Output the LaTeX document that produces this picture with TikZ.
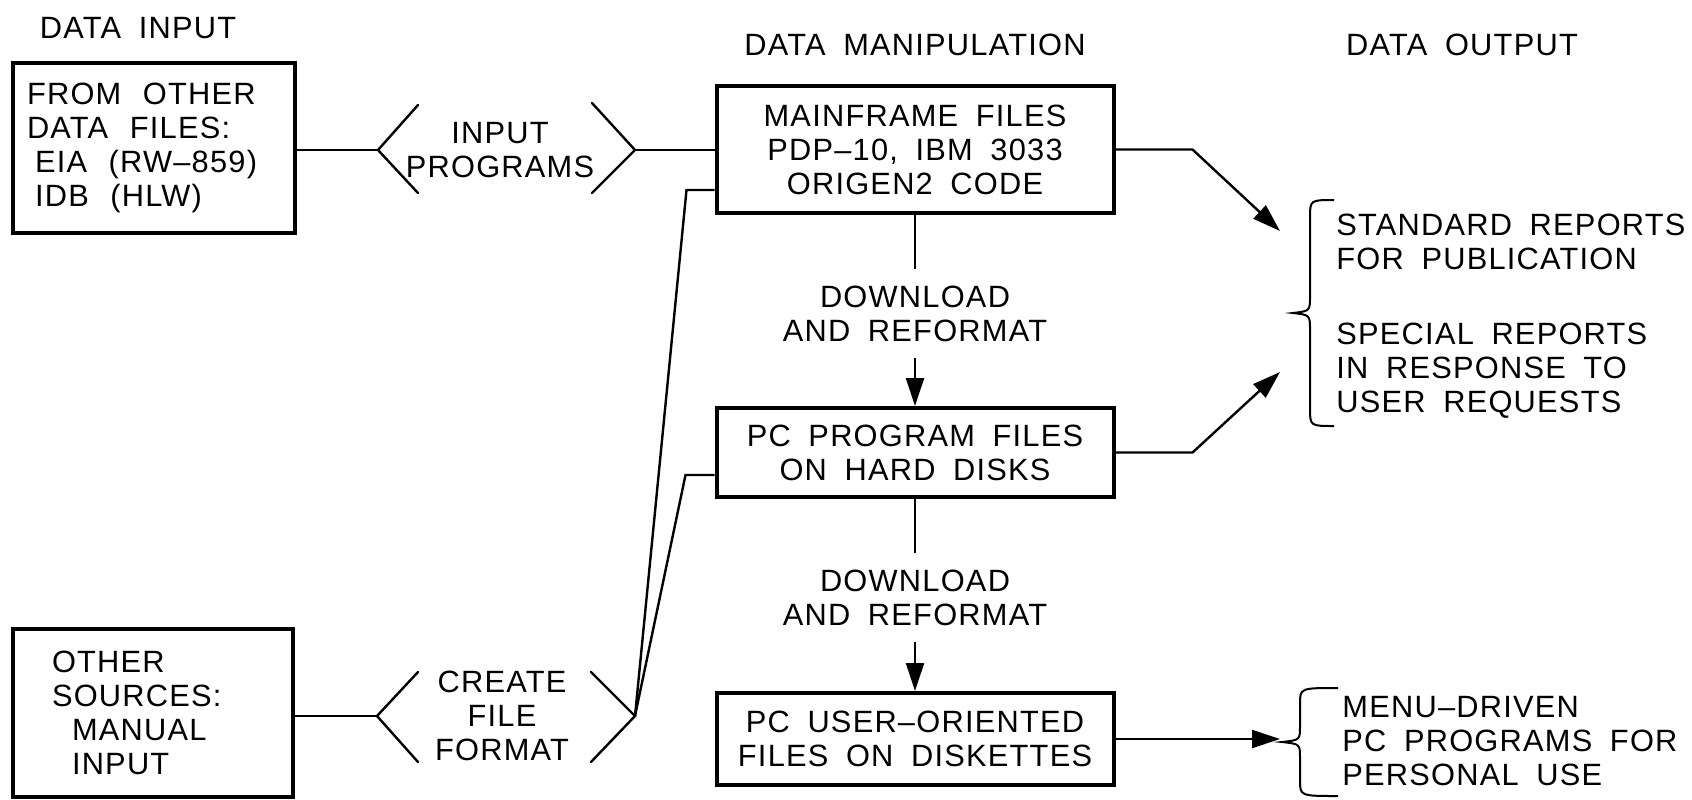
\documentclass[tikz,border=0pt]{standalone}
\usepackage{fontspec}
\setmainfont{Liberation Sans}[LetterSpace=4, WordSpace=1.8]
\usetikzlibrary{arrows.meta, positioning}
\newcommand{\widesp}{\spaceskip=0.7em\relax}

\begin{document}
\begin{tikzpicture}[x=0.5pt, y=-0.5pt,
  >={Triangle[length=14pt, width=9pt]},
  font=\fontsize{15.4pt}{17pt}\selectfont,
  procbox/.style={draw, line width=2pt, align=center, inner sep=0pt},
  srcbox/.style={draw, line width=2pt, align=left, inner ysep=0pt},
  conn/.style={line width=1.2pt},
  chev/.style={line width=1.2pt, line cap=round},
  lbl/.style={align=center, inner xsep=0pt, inner ysep=8pt},
  outtxt/.style={anchor=west, align=left, inner sep=0pt},
  curly/.style={line width=1pt}]
  \useasboundingbox (0,0) rectangle (1692,799);

  % column headings
  \node (hdin)  at (138,28)  {DATA INPUT};
  \node (hdman) at (915,45)  {DATA MANIPULATION};
  \node (hdout) at (1462,45) {DATA OUTPUT};

  % data input
  \node (srcfiles) [srcbox, text width=127pt, inner xsep=7pt, minimum height=85pt] at (154,148)
    {\widesp FROM OTHER\\DATA FILES:\\\hspace*{4pt}EIA (RW--859)\\\hspace*{4pt}IDB (HLW)};
  \node (srcmanual) [srcbox, text width=101pt, inner xsep=19.5pt, minimum height=84pt] at (153,713)
    {\widesp OTHER\\SOURCES:\\\hspace*{10pt}MANUAL\\\hspace*{10pt}INPUT};

  % data manipulation
  \node (main) [procbox, minimum width=198.5pt, minimum height=63.5pt] at (915,149.5)
    {MAINFRAME FILES\\PDP--10, IBM 3033\\ORIGEN2 CODE};
  \node (pcprog) [procbox, minimum width=198.5pt, minimum height=44.5pt] at (915,452.5)
    {PC PROGRAM FILES\\ON HARD DISKS};
  \node (pcuser) [procbox, minimum width=198.5pt, minimum height=46pt] at (915,739)
    {PC USER--ORIENTED\\FILES ON DISKETTES};
  \node (dl1) [lbl] at (915,313.5) {DOWNLOAD\\AND REFORMAT};
  \node (dl2) [lbl] at (915,597.5) {DOWNLOAD\\AND REFORMAT};

  % chevron labels
  \node (inprog) [lbl] at (500,150) {INPUT\\PROGRAMS};
  \node (crfmt)  [lbl] at (502,716) {CREATE\\FILE\\FORMAT};
  \coordinate (inL) at (378,150);
  \coordinate (inR) at (635,150);
  \coordinate (crL) at (377,716);
  \coordinate (crR) at (635,716);
  \draw[chev] (inL) ++(40,-45) -- (inL) -- ++(40,43);
  \draw[chev] (inR) ++(-43,-47) -- (inR) -- ++(-43,43);
  \draw[chev] (crL) ++(41,-44) -- (crL) -- ++(41,46);
  \draw[chev] (crR) ++(-44,-44) -- (crR) -- ++(-44,46);

  % input connectors
  \draw[conn] (srcfiles.east |- inL) -- (inL);
  \draw[conn] (inR) -- (main.west |- inR);
  \draw[conn] (srcmanual.east |- crL) -- (crL);
  \draw[conn] ([yshift=-20.25pt]main.west) -- ++(-28,0) -- (crR);
  \draw[conn] ([yshift=-11.25pt]pcprog.west) -- ++(-29,0) -- (crR);

  % download steps
  \draw[conn] (main) -- (dl1);
  \draw[conn,->] (dl1) -- (pcprog);
  \draw[conn] (pcprog) -- (dl2);
  \draw[conn,->] (dl2) -- (pcuser);

  % data output
  \coordinate (stdtip) at (1280,231);
  \coordinate (sptip) at (1280,372);
  \coordinate (menutip) at (1280,739);
  \draw[conn,->] (main.east) -- ++(77,0) -- (stdtip);
  \draw[conn,->] (pcprog.east) -- ++(77,0) -- (sptip);
  \draw[conn,->] (pcuser.east) -- (menutip);
  \node (stdrep) [outtxt] at (1336,241.5) {STANDARD REPORTS\\FOR PUBLICATION};
  \node (sprep)  [outtxt] at (1336,371)   {SPECIAL REPORTS\\IN RESPONSE TO\\USER REQUESTS};
  \node (menu)   [outtxt] at (1342,741)   {MENU--DRIVEN\\PC PROGRAMS FOR\\PERSONAL USE};
  \draw[curly] (1334,200) .. controls (1310,200) .. (1310,218) -- (1310,296)
    .. controls (1310,311) .. (1293,313) .. controls (1310,315) .. (1310,330)
    -- (1310,408) .. controls (1310,426) .. (1334,426);
  \draw[curly] (1338,688) .. controls (1300,688) .. (1300,704) -- (1300,726)
    .. controls (1300,740) .. (1282,742) .. controls (1300,744) .. (1300,758)
    -- (1300,780) .. controls (1300,796) .. (1338,796);
\end{tikzpicture}
\end{document}
